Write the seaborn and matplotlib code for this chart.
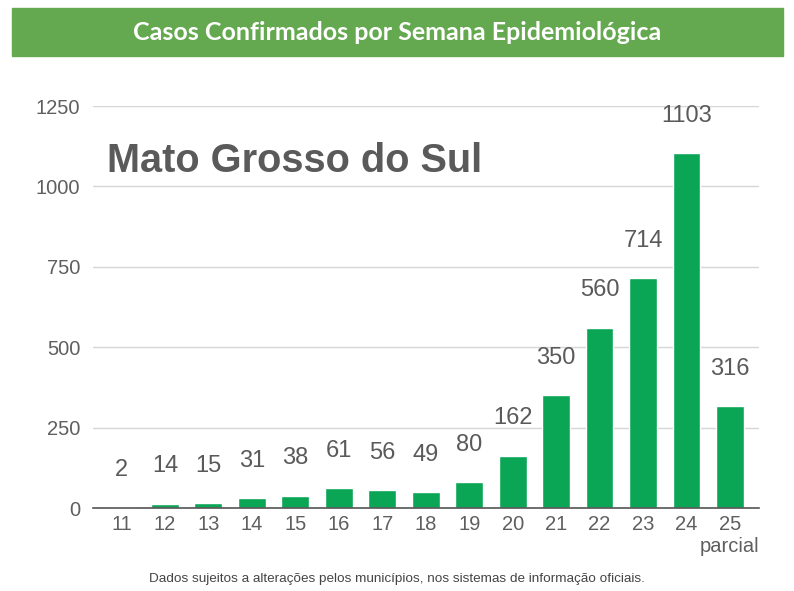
import matplotlib.pyplot as plt
import pandas as pd
import seaborn as sns
from matplotlib.patches import Rectangle

# dados do gráfico
semanas = ['11', '12', '13', '14', '15', '16', '17', '18', '19', '20',
           '21', '22', '23', '24', '25\nparcial']
casos = [2, 14, 15, 31, 38, 61, 56, 49, 80, 162, 350, 560, 714, 1103, 316]
yticks = [0, 250, 500, 750, 1000, 1250]

titulo = 'Casos Confirmados por Semana Epidemiológica'
estado = 'Mato Grosso do Sul'
rodape = 'Dados sujeitos a alterações pelos municípios, nos sistemas de informação oficiais.'

sns.set_theme(style='white')
plt.rcParams['font.family'] = ['Liberation Sans', 'DejaVu Sans']

df = pd.DataFrame({'semana': semanas, 'casos': casos})

fig = plt.figure(figsize=(7.94, 5.91), dpi=100)
ax = fig.add_axes([0.1171, 0.1404, 0.8388, 0.6802])

sns.barplot(data=df, x='semana', y='casos', color='#0aa656', saturation=1,
            width=0.64, ax=ax)

ax.set_ylim(0, 1250)
ax.set_xlim(-0.655, 14.667)
ax.set_yticks(yticks)
ax.yaxis.grid(True, color='#d6d6d6', linewidth=1)
ax.set_axisbelow(True)
for s in ['top', 'right', 'left']:
    ax.spines[s].set_visible(False)
ax.spines['bottom'].set_color('#555555')
ax.spines['bottom'].set_linewidth(1.2)
ax.tick_params(axis='y', length=0, pad=9, labelsize=14.5, labelcolor='#5f5f5f')
ax.tick_params(axis='x', length=0, pad=5, labelsize=14.5, labelcolor='#5f5f5f')
ax.set_xlabel('')
ax.set_ylabel('')

# rótulos acima das barras
for i, v in enumerate(casos):
    ax.annotate(str(v), (i, v), xytext=(0, 27), textcoords='offset points',
                ha='center', va='center', fontsize=17, color='#5a5a5a')

ax.text(0.021, 0.864, estado, transform=ax.transAxes, fontsize=28.6,
        fontweight='bold', color='#5a5a5a', va='center', ha='left')

# cabeçalho verde
fig.patches.append(Rectangle((12 / 794, 1 - 56 / 591), 771 / 794, 48 / 591,
                             transform=fig.transFigure, color='#64a94f',
                             zorder=0))
fig.text(0.5, 1 - 32 / 591, titulo, ha='center', va='center', color='white',
         fontsize=18, fontweight='bold', family=['Lato', 'DejaVu Sans'])

fig.text(0.5, 1 - 579 / 591, rodape, ha='center', va='center',
         fontsize=9.7, color='#444444')

plt.savefig('out.png', dpi=100)
